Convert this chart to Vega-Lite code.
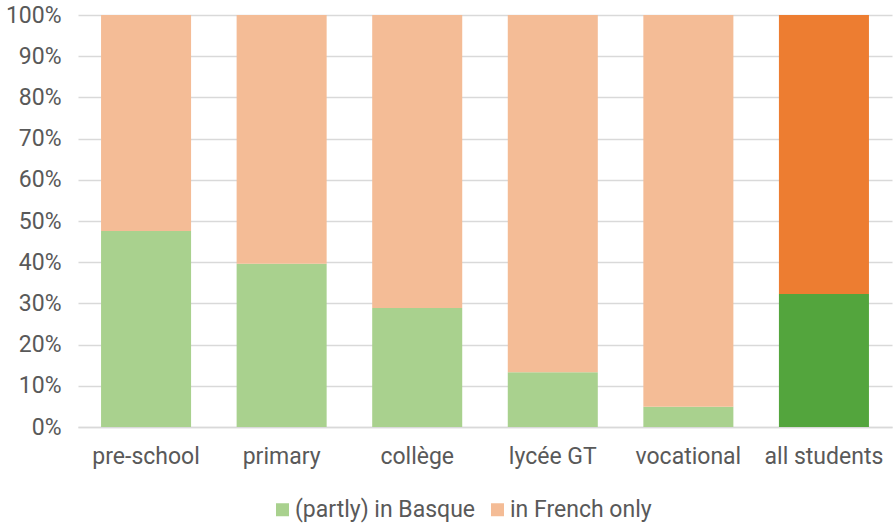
{
  "$schema": "https://vega.github.io/schema/vega-lite/v6.json",
  "autosize": {"type": "none"},
  "padding": {"left": 78, "top": 15, "right": 1, "bottom": 97},
  "width": 814,
  "height": 412,
  "background": "white",
  "config": {
    "view": {"stroke": null},
    "font": "Roboto",
    "axis": {"labelFont": "Roboto", "labelColor": "#595959", "labelFontSize": 23}
  },
  "data": {
    "values": [
      {"level": "pre-school", "series": "a", "shade": "(partly) in Basque", "pct": 0.476},
      {"level": "pre-school", "series": "b", "shade": "in French only", "pct": 0.524},
      {"level": "primary", "series": "a", "shade": "(partly) in Basque", "pct": 0.396},
      {"level": "primary", "series": "b", "shade": "in French only", "pct": 0.604},
      {"level": "collège", "series": "a", "shade": "(partly) in Basque", "pct": 0.289},
      {"level": "collège", "series": "b", "shade": "in French only", "pct": 0.711},
      {"level": "lycée GT", "series": "a", "shade": "(partly) in Basque", "pct": 0.133},
      {"level": "lycée GT", "series": "b", "shade": "in French only", "pct": 0.867},
      {"level": "vocational", "series": "a", "shade": "(partly) in Basque", "pct": 0.049},
      {"level": "vocational", "series": "b", "shade": "in French only", "pct": 0.951},
      {"level": "all students", "series": "a", "shade": "all: Basque", "pct": 0.323},
      {"level": "all students", "series": "b", "shade": "all: French", "pct": 0.677}
    ]
  },
  "mark": {"type": "bar"},
  "encoding": {
    "x": {
      "field": "level",
      "type": "nominal",
      "sort": null,
      "scale": {"paddingInner": 0.336, "paddingOuter": 0.17},
      "axis": {"title": null, "labelAngle": 0, "ticks": false, "domain": true, "domainColor": "#D9D9D9", "domainWidth": 1.5, "labelPadding": 18}
    },
    "y": {
      "field": "pct",
      "type": "quantitative",
      "stack": "zero",
      "scale": {"domain": [0, 1], "nice": false},
      "axis": {"title": null, "format": ".0%", "values": [0, 0.1, 0.2, 0.3, 0.4, 0.5, 0.6, 0.7, 0.8, 0.9, 1], "ticks": false, "domain": false, "gridColor": "#D9D9D9", "gridWidth": 1.5, "labelPadding": 17}
    },
    "order": {"field": "series", "sort": "ascending"},
    "color": {
      "field": "shade",
      "type": "nominal",
      "scale": {
        "domain": ["(partly) in Basque", "in French only", "all: Basque", "all: French"],
        "range": ["#A9D18E", "#F4BC96", "#53A53D", "#ED7D31"]
      },
      "legend": {
        "title": null,
        "values": ["(partly) in Basque", "in French only"],
        "orient": "none",
        "direction": "horizontal",
        "legendX": 193,
        "legendY": 483,
        "symbolType": "square",
        "symbolSize": 169,
        "symbolStrokeWidth": 0,
        "labelFontSize": 23,
        "labelColor": "#595959",
        "labelFont": "Roboto",
        "labelOffset": 1,
        "columnPadding": 10,
        "labelLimit": 300
      }
    }
  }
}
